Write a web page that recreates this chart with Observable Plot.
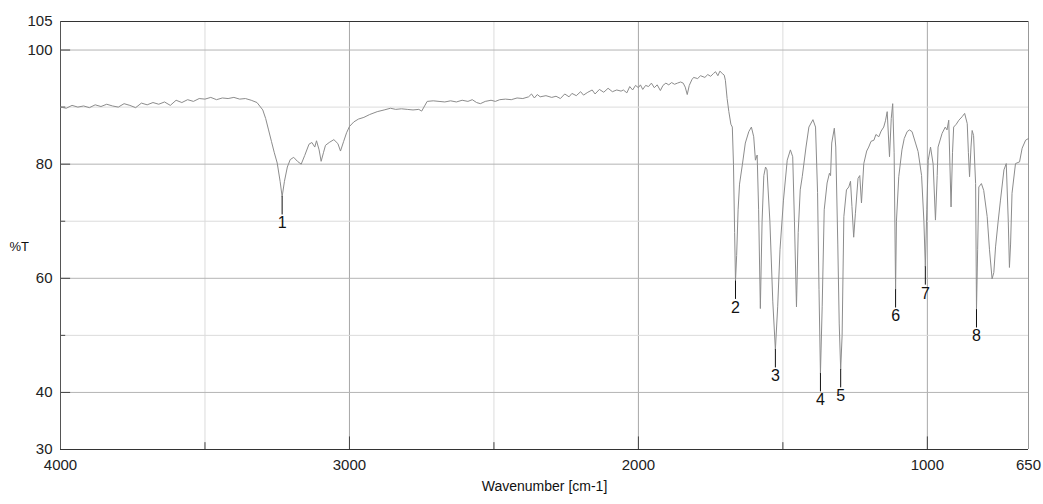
<!DOCTYPE html>
<html>
<head>
<meta charset="utf-8">
<script src="https://cdn.jsdelivr.net/npm/d3@7"></script>
<script src="https://cdn.jsdelivr.net/npm/@observablehq/plot@0.6"></script>
<style>
  html, body { margin: 0; padding: 0; background: #fff; }
  #chart svg { display: block; }
</style>
</head>
<body>
<div id="chart"></div>
<script>
// Wavenumber (cm-1) and transmittance (%T)
const wavenumbers = [
  4000,3980,3960,3940,3920,3900,3880,3860,3840,3820,3800,3780,3760,3740,3720,3700,3680,3660,3640,3620,
  3600,3580,3560,3540,3520,3500,3480,3460,3440,3420,3400,3380,3360,3340,3320,3300,3290,3280,3270,3260,
  3250,3240,3233,3225,3215,3205,3193,3180,3167,3155,3140,3130,3120,3114,3105,3098,3090,3083,3070,3054,
  3040,3031,3020,3010,3000,2985,2969,2950,2930,2904,2880,2858,2840,2820,2800,2780,2760,2750,2740,2731,
  2710,2690,2670,2650,2630,2610,2590,2575,2560,2547,2530,2510,2495,2480,2460,2440,2420,2400,2380,2370,
  2360,2350,2340,2320,2300,2285,2270,2255,2240,2230,2215,2200,2190,2175,2160,2150,2135,2120,2105,2090,
  2075,2060,2052,2040,2030,2020,2010,2000,1993,1985,1975,1965,1955,1945,1935,1924,1915,1905,1895,1885,
  1875,1865,1854,1845,1838,1831,1824,1815,1809,1795,1785,1770,1760,1750,1740,1733,1725,1718,1710,1703,
  1699,1693,1687,1680,1675,1671,1667,1664,1660,1655,1650,1640,1630,1618,1609,1601,1595,1589,1584,1578,
  1572,1566,1560,1555,1545,1535,1526,1518,1510,1498,1485,1474,1466,1460,1453,1447,1440,1433,1420,1410,
  1396,1387,1380,1375,1370,1364,1357,1347,1339,1335,1331,1322,1317,1310,1305,1300,1295,1289,1280,1272,
  1266,1261,1255,1249,1240,1234,1228,1220,1210,1203,1195,1185,1178,1168,1160,1151,1145,1139,1131,1125,
  1120,1115,1110,1107,1099,1088,1080,1070,1062,1053,1041,1032,1020,1012,1007,1002,997,989,980,972,
  966,963,949,938,932,926,922,918,913,909,900,891,880,871,862,858,854,849,845,840,
  836,833,830,826,822,813,805,793,785,776,770,764,755,747,735,727,720,716,712,707,
  695,681,672,660,650
];
const transmittance = [
  90.0,89.8,90.3,90.0,90.2,89.9,90.4,90.1,90.5,90.2,90.0,90.6,90.3,89.9,90.7,90.4,90.8,90.5,90.9,90.3,
  91.2,90.8,91.3,91.0,91.5,91.4,91.7,91.3,91.6,91.5,91.7,91.4,91.5,91.2,90.8,89.5,88.0,86.0,84.0,82.0,
  80.2,77.0,74.3,77.0,79.5,80.8,81.2,80.5,80.0,81.5,83.5,83.8,83.0,84.1,82.5,80.5,82.0,83.3,83.8,84.3,
  83.6,82.3,84.0,85.5,86.6,87.4,87.9,88.2,88.7,89.2,89.5,89.8,89.6,89.7,89.6,89.5,89.6,89.3,90.2,91.0,
  91.1,91.0,90.9,91.1,90.9,91.2,91.0,91.3,90.8,90.6,91.0,91.2,91.0,91.3,91.4,91.3,91.6,91.5,91.8,92.3,
  91.6,92.2,91.8,92.0,91.7,91.9,91.5,92.3,91.8,92.4,92.0,92.7,92.1,92.6,93.0,92.3,93.1,92.6,93.3,92.7,
  93.0,92.8,93.0,92.5,93.6,93.0,93.8,93.4,93.9,93.1,93.8,93.6,94.2,93.4,93.9,92.9,93.8,94.2,93.9,94.3,
  94.0,94.2,94.4,94.2,93.5,92.2,93.8,94.8,95.2,95.0,95.5,95.2,95.7,95.4,95.9,96.2,95.5,96.3,95.9,95.6,
  94.7,91.5,89.2,87.0,86.5,80.0,68.0,59.5,64.0,72.0,76.5,80.0,83.7,85.7,86.5,84.8,80.7,81.6,72.0,54.7,
  70.0,78.0,79.5,79.0,70.0,56.0,47.5,55.0,65.0,73.7,80.7,82.5,81.3,70.0,55.0,68.0,75.5,77.8,83.0,86.5,
  87.8,86.5,75.0,58.0,43.3,55.0,72.0,76.7,78.4,78.0,83.7,86.3,83.0,66.0,52.0,44.0,50.0,70.8,75.5,76.0,
  77.0,72.6,67.2,71.4,77.5,78.0,73.2,80.1,82.3,83.0,84.0,84.2,85.2,84.8,85.8,86.5,87.6,89.2,81.3,88.0,
  90.6,82.0,58.0,70.0,77.8,82.5,84.5,85.7,86.0,85.7,83.7,82.2,78.0,70.0,62.0,72.0,80.7,83.0,80.0,70.2,
  78.0,83.0,85.4,86.5,86.0,87.7,80.0,72.5,82.0,86.5,87.0,87.7,88.3,88.9,87.1,82.0,77.8,83.0,85.9,85.0,
  80.0,76.6,54.5,65.0,76.0,76.6,75.4,70.8,65.0,59.9,61.0,65.5,70.0,73.7,79.0,80.1,70.0,61.9,66.0,74.9,
  80.1,80.4,82.8,84.2,84.5
];

// Labelled peaks
const peakLabels = ["1","2","3","4","5","6","7","8"];
const peakWavenumbers = [3233,1664,1526,1370,1300,1110,1007,830];
const peakTransmittance = [74.3,59.5,47.5,43.3,44.0,58.0,62.0,54.5];

// Axis ticks
const xTickLabels = [4000,3000,2000,1000,650];
const xMajorGrid = [3000,2000,1000];
const xMinorGrid = [3500,2500,1500];
const yTickLabels = [30,40,60,80,100,105];
const yMajorGrid = [40,60,80,100];
const yMinorGrid = [50,70,90];

const spectrum = wavenumbers.map((w, i) => ({wn: w, t: transmittance[i]}));
const peaks = peakLabels.map((l, i) => ({label: l, wn: peakWavenumbers[i], t: peakTransmittance[i]}));

const font = "'Liberation Sans', Arial, sans-serif";
const narrow = "'Liberation Sans Narrow', 'Arial Narrow', 'Liberation Sans', sans-serif";

const chart = Plot.plot({
  width: 1043,
  height: 504,
  marginLeft: 60,
  marginRight: 15,
  marginTop: 21,
  marginBottom: 55,
  style: {fontFamily: font, background: "#fff", color: "#222"},
  x: {domain: [4000, 650]},
  y: {domain: [30, 105]},
  marks: [
    Plot.gridX(xMinorGrid, {stroke: "#dcdcdc", strokeOpacity: 1}),
    Plot.gridX(xMajorGrid, {stroke: "#a8a8a8", strokeOpacity: 1}),
    Plot.gridY(yMinorGrid, {stroke: "#dcdcdc", strokeOpacity: 1}),
    Plot.gridY(yMajorGrid, {stroke: "#b4b4b4", strokeOpacity: 1}),
    // inward tick marks
    Plot.ruleY(yMajorGrid, {x1: 4000, x2: 3965, stroke: "#444"}),
    Plot.ruleY(yMinorGrid, {x1: 4000, x2: 3982, stroke: "#444"}),
    Plot.ruleX(xMajorGrid, {y1: 30, y2: 32.2, stroke: "#444"}),
    Plot.ruleX(xMinorGrid, {y1: 30, y2: 31.2, stroke: "#444"}),
    // frame
    Plot.ruleY([105], {stroke: "#333"}),
    Plot.ruleY([30], {stroke: "#333"}),
    Plot.ruleX([4000], {stroke: "#555"}),
    Plot.ruleX([650], {stroke: "#999"}),
    Plot.axisX(xTickLabels, {tickSize: 0, tickPadding: 10, fontSize: 15, label: null, tickFormat: d => String(d)}),
    Plot.axisY(yTickLabels, {tickSize: 0, tickPadding: 8, fontSize: 15, label: null, tickFormat: d => String(d)}),
    // spectrum
    Plot.line(spectrum, {x: "wn", y: "t", stroke: "#8c8c8c", strokeWidth: 1}),
    // peak markers
    Plot.ruleX(peaks, {x: "wn", y1: "t", y2: d => d.t - 3.2, stroke: "#111"}),
    Plot.text(peaks, {x: "wn", y: d => d.t - 3.2, text: "label", lineAnchor: "top", dy: 2,
      fontSize: 16, fontFamily: narrow, fill: "#111"}),
    // axis titles
    Plot.text(["%T"], {frameAnchor: "left", dx: -51, dy: 11, textAnchor: "start",
      fontSize: 13, fontFamily: font, fill: "#111"}),
    Plot.text(["Wavenumber [cm-1]"], {frameAnchor: "bottom", dy: 41,
      fontSize: 14, fontFamily: narrow, fill: "#111"})
  ]
});
document.getElementById("chart").append(chart);
</script>
</body>
</html>
